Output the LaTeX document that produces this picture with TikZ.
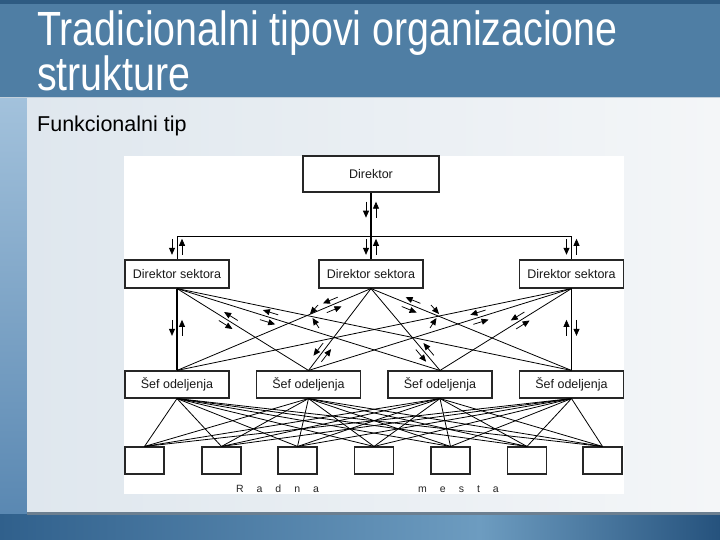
\documentclass[tikz,border=0pt]{standalone}
\usepackage{fontspec}
\setmainfont{Liberation Sans}
\newfontfamily\narrowfont[FakeStretch=0.82]{Liberation Sans}
\usetikzlibrary{arrows.meta,decorations.markings}
\definecolor{titlebar}{HTML}{4F7EA4}
\definecolor{titletop}{HTML}{2E5B82}
\definecolor{titleedge}{HTML}{C3D0DB}
\definecolor{stripA}{HTML}{A3C2DC}
\definecolor{stripB}{HTML}{5A88B2}
\definecolor{panelA}{HTML}{DFE7EE}
\definecolor{panelB}{HTML}{F4F6F8}
\definecolor{panelshadow}{HTML}{6C7F90}
\definecolor{baseA}{HTML}{30608C}
\definecolor{baseB}{HTML}{6D9CC0}
\definecolor{baseC}{HTML}{25527D}
\tikzset{
  conn/.style={draw=black, line width=0.8pt},
  heavy/.style={draw=black, line width=1.9pt},
  box/.style={draw=black!85, line width=1.1pt, fill=white, inner sep=0pt,
    font=\fontsize{12.5}{14}\selectfont, text=black!90},
  sectorbox/.style={box, minimum width=104pt, minimum height=28pt},
  deptbox/.style={box, minimum width=104pt, minimum height=27pt},
  placebox/.style={box, minimum width=39pt, minimum height=27pt},
  topbox/.style={box, line width=2.2pt, minimum width=136pt, minimum height=36pt},
  flow/.style={line width=0.75pt, -{Triangle[length=7pt,width=6pt]}},
  flowpair/.style={postaction={decorate, decoration={markings,
    mark=at position #1 with {\draw[flow] (-8pt,-5pt) -- (8pt,-5pt);
                              \draw[flow] (8pt,5pt) -- (-8pt,5pt);}}}},
  flowpairrev/.style={postaction={decorate, decoration={markings,
    mark=at position #1 with {\draw[flow] (-8pt,5pt) -- (8pt,5pt);
                              \draw[flow] (8pt,-5pt) -- (-8pt,-5pt);}}}},
  titletext/.style={text=white, inner sep=0pt, anchor=base west,
    font=\narrowfont\fontsize{48}{50}\selectfont},
  spaced/.style={inner sep=0pt, text=black!85, font=\fontsize{10.5}{12}\selectfont},
}
\begin{document}
\begin{tikzpicture}[x=1pt,y=-1pt]
\useasboundingbox (0,0) rectangle (720,540);
% slide background
\shade[left color=baseA, right color=baseB] (0,512) rectangle (480,540);
\shade[left color=baseB, right color=baseC] (480,512) rectangle (720,540);
\shade[top color=stripA, bottom color=stripB] (0,97) rectangle (27,513);
\shade[left color=panelA, right color=panelB] (27,97) rectangle (720,512);
\fill[panelshadow] (27,512) rectangle (720,515);
\fill[titlebar] (0,0) rectangle (720,97);
\fill[titletop] (0,0) rectangle (720,4);
\draw[titleedge, line width=1.5pt] (0,97.5) -- (720,97.5);
% titles
\node[titletext] (t1) at (37,46) {Tradicionalni tipovi organizacione};
\node[titletext] (t2) at (37,91) {strukture};
\node[inner sep=0pt, anchor=base west, font=\fontsize{21.5}{24}\selectfont] (sub) at (37,132) {Funkcionalni tip};
% diagram area
\fill[white] (124,156) rectangle (624,494);
% nodes
\node[topbox] (dir) at (371,174) {Direktor};
\node[sectorbox] (dsl) at (177,274) {Direktor sektora};
\node[sectorbox] (dsm) at (371,274) {Direktor sektora};
\node[sectorbox] (dsr) at (571.5,274) {Direktor sektora};
\node[deptbox] (s1) at (177,384.5) {Šef odeljenja};
\node[deptbox] (s2) at (308.5,384.5) {Šef odeljenja};
\node[deptbox] (s3) at (440,384.5) {Šef odeljenja};
\node[deptbox] (s4) at (571.5,384.5) {Šef odeljenja};
\node[placebox] (w1) at (144.5,460.5) {};
\node[placebox] (w2) at (221.5,460.5) {};
\node[placebox] (w3) at (297.5,460.5) {};
\node[placebox] (w4) at (374,460.5) {};
\node[placebox] (w5) at (450.5,460.5) {};
\node[placebox] (w6) at (527,460.5) {};
\node[placebox] (w7) at (602.5,460.5) {};
\node[spaced] (radna) at (277.5,489) {\spaceskip=13pt R a d n a};
\node[spaced] (mesta) at (458.5,489) {\spaceskip=13pt m e s t a};
% top level connectors
\coordinate (bl) at (177,236);
\coordinate (br) at (571.5,236);
\draw[conn] (bl) -- (br);
\draw[conn, flowpair=0.46] (bl) -- (dsl.north);
\draw[conn, flowpair=0.46] (br) -- (dsr.north);
\draw[heavy, flowpair=0.25, flowpair=0.81] (dir.south) -- (dsm.north);
% sector to department
\draw[heavy, flowpair=0.48] (dsl.south) -- (s1.north);
\draw[conn, flowpairrev=0.48] (dsr.south) -- (s4.north);
\draw[conn, flowpair=0.39] (dsl.south) -- (s2.north);
\draw[conn, flowpair=0.35] (dsl.south) -- (s3.north);
\draw[conn] (dsl.south) -- (s4.north);
\draw[conn, flowpair=0.2] (dsm.south) -- (s1.north);
\draw[conn, flowpair=0.78] (dsm.south) -- (s2.north);
\draw[conn, flowpair=0.78] (dsm.south) -- (s3.north);
\draw[conn, flowpair=0.2] (dsm.south) -- (s4.north);
\draw[conn] (dsr.south) -- (s1.north);
\draw[conn, flowpair=0.35] (dsr.south) -- (s2.north);
\draw[conn, flowpair=0.39] (dsr.south) -- (s3.north);
% crossing arrows
\draw[flow] (318,305) -- (310,314);
\draw[flow] (319,328) -- (312.5,318);
\draw[flow] (431,305) -- (439,314);
\draw[flow] (430,328) -- (436.5,318);
% department to work places
\foreach \a in {s1,s2,s3,s4}
  \foreach \b in {w1,w2,w3,w4,w5,w6,w7}
    \draw[conn] (\a.south) -- (\b.north);
\end{tikzpicture}
\end{document}
